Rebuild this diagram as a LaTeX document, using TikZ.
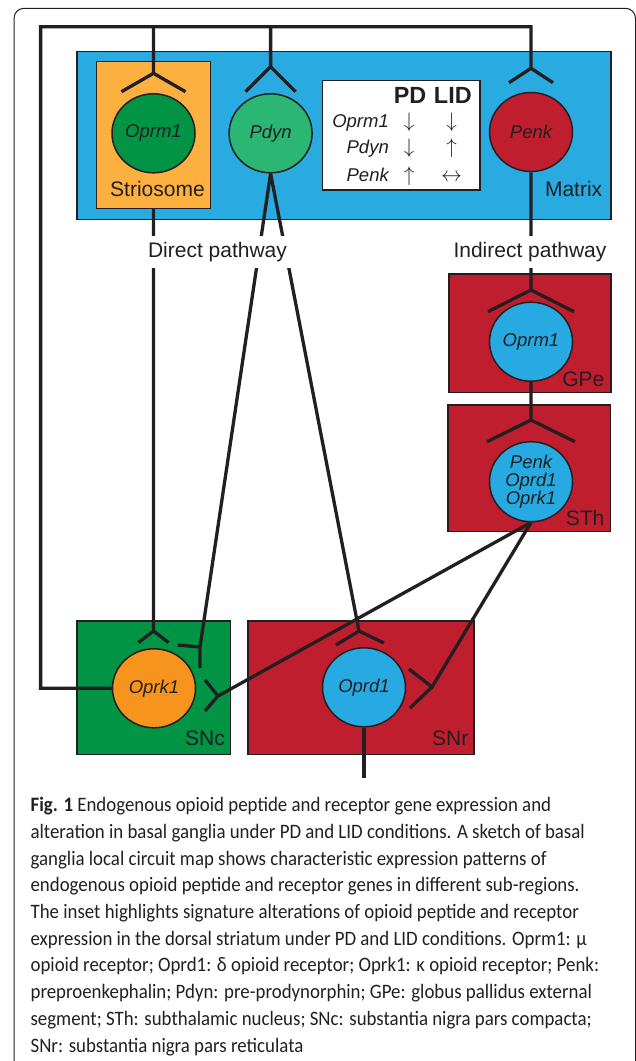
\RequirePackage{fix-cm}
\documentclass[tikz,border=0pt]{standalone}
\usepackage{fontspec}
\setmainfont{Liberation Sans}
\newfontfamily\capfont[FakeStretch=0.92]{Carlito}
\usetikzlibrary{shapes.geometric}

\definecolor{ink}{HTML}{231F20}
\definecolor{matrixblue}{HTML}{29ABE2}
\definecolor{strioorange}{HTML}{FBB040}
\definecolor{darkgreen}{HTML}{009444}
\definecolor{lightgreen}{HTML}{2BB673}
\definecolor{nigrared}{HTML}{BE1E2D}
\definecolor{kappaorange}{HTML}{F7941D}
\definecolor{cellblue}{HTML}{27AAE1}

\newcommand\gene{\fontsize{18.5}{18}\selectfont\itshape}
\newcommand\lblfont{\fontsize{21}{25}\selectfont}

\tikzset{
  axon/.style={draw=ink, line width=3.3pt},
  region/.style={draw=ink, line width=1.2pt, inner sep=0pt},
  cell/.style={ellipse, draw=ink, line width=1.5pt, inner sep=0pt, minimum width=83pt, minimum height=79pt, font=\gene, align=center, text=ink},
  lbl/.style={inner sep=0pt, font=\lblfont, text=ink},
  pathlbl/.style={fill=white, inner sep=6pt, font=\lblfont, text=ink},
  capline/.style={anchor=base west, inner sep=0pt, text=ink, font=\capfont\fontsize{20.5}{26.7}\selectfont}
}

\begin{document}
\begin{tikzpicture}[x=1pt,y=-1pt]
\useasboundingbox (0,0) rectangle (636,1061);
\draw[ink, line width=1pt, rounded corners=10pt] (14,1075) -- (14,8.3) -- (635.5,8.3) -- (635.5,1075);

% regions
\node[region, fill=matrixblue, minimum width=534pt, minimum height=167.6pt] (mat) at (344,135.5) {};
\node[region, fill=strioorange, minimum width=114.5pt, minimum height=146.6pt] (strio) at (153.5,135) {};
\node[region, fill=nigrared, minimum width=162pt, minimum height=118.7pt] (gpe) at (530,333.35) {};
\node[region, fill=nigrared, minimum width=162.5pt, minimum height=126.7pt] (sth) at (529.25,468.35) {};
\node[region, fill=darkgreen, minimum width=153.4pt, minimum height=133.3pt] (snc) at (153.7,687.65) {};
\node[region, fill=nigrared, minimum width=226pt, minimum height=133.3pt] (snr) at (361,687.65) {};

% cells
\node[cell, fill=darkgreen] (oprm1s) at (153.5,133.3) {Oprm1};
\node[cell, fill=lightgreen] (pdyn) at (270.6,133.3) {Pdyn};
\node[cell, fill=nigrared] (penk) at (531,132) {Penk};
\node[cell, fill=cellblue] (oprm1g) at (531,341.7) {Oprm1};
\node[cell, fill=cellblue, minimum height=80pt] (sthn) at (531,481.7) {Penk\\Oprd1\\Oprk1};
\node[cell, fill=kappaorange] (oprk1) at (154,688.3) {Oprk1};
\node[cell, fill=cellblue] (oprd1) at (364,687.3) {Oprd1};

% junctions of the receptors
\coordinate (loopL) at (40.6,26.7);
\coordinate (jStr) at (153.5,73.3);
\coordinate (jPdyn) at (270.6,66.7);
\coordinate (jPenk) at (531,68.3);
\coordinate (jGPe) at (531,290);
\coordinate (jSTh) at (531,420);
\coordinate (jSNcD) at (153.5,631);
\coordinate (jSNcP) at (200,647);
\coordinate (jSNcS) at (218,696);
\coordinate (jSNrP) at (359,631);
\coordinate (jSNrS) at (432,687);
\coordinate (nigral) at (364,778.3);

\draw[axon] (oprk1.west) -| (loopL) -| (jPenk) -- ++(-22,14.4) (jPenk) -- ++(22,14.4);
\foreach \j/\dx/\dy in {jStr/32/18.4, jPdyn/25/25} {
\draw[axon] (\j |- loopL) -- (\j) -- ++(-\dx,\dy) (\j) -- ++(\dx,\dy);
}
\draw[axon] (penk.south) -- (jGPe) -- ++(-43,21.7) (jGPe) -- ++(43,21.7);
\draw[axon] (oprm1g.south) -- (jSTh) -- ++(-44,21.7) (jSTh) -- ++(44,21.7);

\draw[axon] (strio.south) -- (jSNcD) -- ++(-15,11.5) (jSNcD) -- ++(15,11.5);
\draw[axon] (pdyn.south) -- (jSNcP) -- ++(0,21) (jSNcP) -- ++(-22.3,-2);
\draw[axon] (pdyn.south) -- (jSNrP) -- ++(-23,14) (jSNrP) -- ++(25,12);
\draw[axon] (sthn.south) -- (jSNcS) -- ++(-13,-16) (jSNcS) -- ++(-13,15);
\draw[axon] (sthn.south) -- (jSNrS) -- ++(-23,-18) (jSNrS) -- ++(-22,21);
\draw[axon] (oprd1.south) -- (nigral);

% labels
\node[lbl, anchor=base east] (lmat) at (602.4,196.7) {Matrix};
\node[lbl, anchor=base] (lstr) at (157.5,196.7) {Striosome};
\node[lbl, anchor=base east] (lgpe) at (604.5,386.7) {GPe};
\node[lbl, anchor=base east] (lsth) at (604.5,525) {STh};
\node[lbl, anchor=base east] (lsnc) at (225,745) {SNc};
\node[lbl, anchor=base east] (lsnr) at (468.6,745) {SNr};
\node[pathlbl, anchor=base] (ldir) at (217.5,257.3) {Direct pathway};
\node[pathlbl, anchor=base] (lind) at (530,257.3) {Indirect pathway};

% inset
\node[draw=ink, line width=1.5pt, fill=white, minimum width=157.3pt, minimum height=109.3pt, inner sep=0pt] (inset) at (401.35,135.35) {};
\node[lbl, font=\bfseries\fontsize{23.4}{25}\selectfont, anchor=base] (pd) at (410,103.3) {PD};
\node[lbl, font=\bfseries\fontsize{23.4}{25}\selectfont, anchor=base] (lid) at (452.8,103.3) {LID};
\foreach \g/\y/\pdx/\lidx in {Oprm1/127.3/\downarrow/\downarrow, Pdyn/153.3/\downarrow/\uparrow, Penk/181.7/\uparrow/\leftrightarrow} {
\node[lbl, font=\gene, anchor=base east] (g\g) at (389,\y) {\g};
\node[lbl, font=\fontsize{21}{21}\selectfont, anchor=base] (pd\g) at (409,\y) {$\pdx$};
\node[lbl, font=\fontsize{21}{21}\selectfont, anchor=base] (lid\g) at (451.7,\y) {$\lidx$};
}

% caption
\foreach \t [count=\i] in {
  {{\bfseries Fig. 1} Endogenous opioid peptide and receptor gene expression and},
  {alteration in basal ganglia under PD and LID conditions. A sketch of basal},
  {ganglia local circuit map shows characteristic expression patterns of},
  {endogenous opioid peptide and receptor genes in different sub-regions.},
  {The inset highlights signature alterations of opioid peptide and receptor},
  {expression in the dorsal striatum under PD and LID conditions. Oprm1: μ},
  {opioid receptor; Oprd1: δ opioid receptor; Oprk1: κ opioid receptor; Penk:},
  {preproenkephalin; Pdyn: pre-prodynorphin; GPe: globus pallidus external},
  {segment; STh: subthalamic nucleus; SNc: substantia nigra pars compacta;},
  {SNr: substantia nigra pars reticulata}} {
\node[capline] (cap\i) at (30.4,{811.7+26.7*(\i-1)}) {\t};
}
\end{tikzpicture}
\end{document}
